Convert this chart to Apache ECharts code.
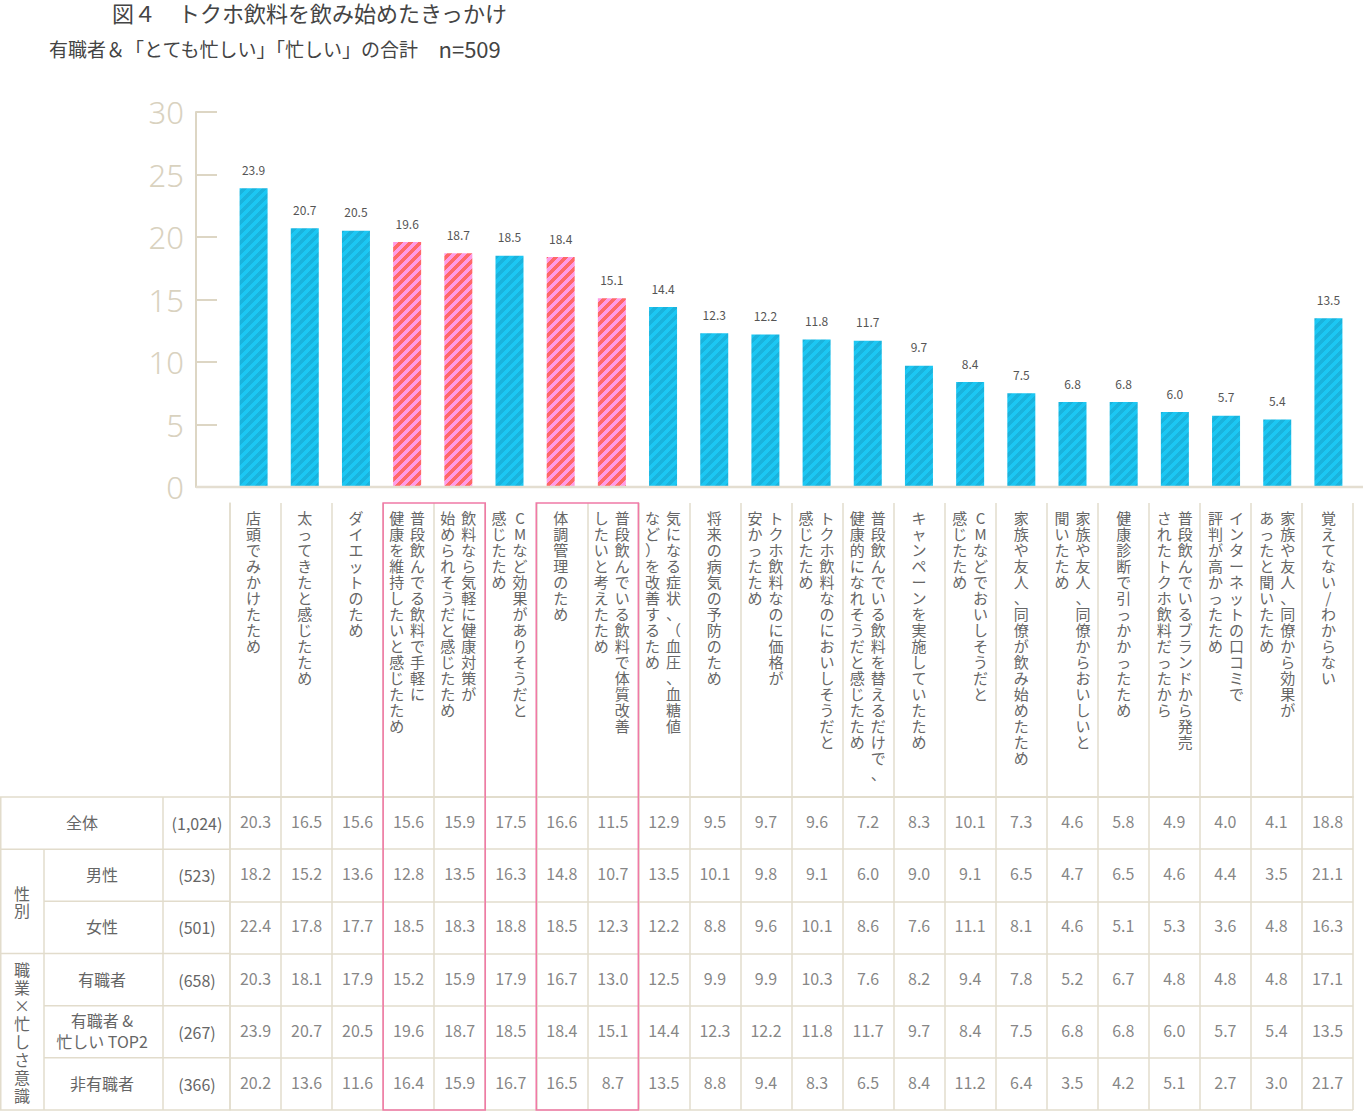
<!DOCTYPE html>
<html><head><meta charset="utf-8">
<script src="https://cdn.jsdelivr.net/npm/echarts@6/dist/echarts.min.js"></script>
<style>html,body{margin:0;padding:0;background:#fff}#c{width:1363px;height:1111px}</style>
</head><body><div id="c"></div>
<script>
// ---------------- data ----------------
const categories = [
  '店頭でみかけたため',
  '太ってきたと感じたため',
  'ダイエットのため',
  '普段飲んでる飲料で手軽に\n健康を維持したいと感じたため',
  '飲料なら気軽に健康対策が\n始められそうだと感じたため',
  'CMなど効果がありそうだと\n感じたため',
  '体調管理のため',
  '普段飲んでいる飲料で体質改善\nしたいと考えたため',
  '気になる症状、（血圧、血糖値\nなど）を改善するため',
  '将来の病気の予防のため',
  'トクホ飲料なのに価格が\n安かったため',
  'トクホ飲料なのにおいしそうだと\n感じたため',
  '普段飲んでいる飲料を替えるだけで、\n健康的になれそうだと感じたため',
  'キャンペーンを実施していたため',
  'CMなどでおいしそうだと\n感じたため',
  '家族や友人、同僚が飲み始めたため',
  '家族や友人、同僚からおいしいと\n聞いたため',
  '健康診断で引っかかったため',
  '普段飲んでいるブランドから発売\nされたトクホ飲料だったから',
  'インターネットの口コミで\n評判が高かったため',
  '家族や友人、同僚から効果が\nあったと聞いたため',
  '覚えてない/わからない'
];
const values = [23.9, 20.7, 20.5, 19.6, 18.7, 18.5, 18.4, 15.1, 14.4, 12.3, 12.2, 11.8, 11.7, 9.7, 8.4, 7.5, 6.8, 6.8, 6.0, 5.7, 5.4, 13.5];
const highlighted = [3, 4, 6, 7];
const highlightGroups = [[3, 4], [6, 7]];
const yTicks = { min: 0, max: 30, interval: 5 };

const rowLabels = ['全体', '男性', '女性', '有職者', '有職者 &\n忙しい TOP2', '非有職者'];
const rowN = ['(1,024)', '(523)', '(501)', '(658)', '(267)', '(366)'];
const groupLabels = ['性別', '職業×忙しさ意識'];
const rowAll     = [20.3, 16.5, 15.6, 15.6, 15.9, 17.5, 16.6, 11.5, 12.9, 9.5, 9.7, 9.6, 7.2, 8.3, 10.1, 7.3, 4.6, 5.8, 4.9, 4.0, 4.1, 18.8];
const rowMale    = [18.2, 15.2, 13.6, 12.8, 13.5, 16.3, 14.8, 10.7, 13.5, 10.1, 9.8, 9.1, 6.0, 9.0, 9.1, 6.5, 4.7, 6.5, 4.6, 4.4, 3.5, 21.1];
const rowFemale  = [22.4, 17.8, 17.7, 18.5, 18.3, 18.8, 18.5, 12.3, 12.2, 8.8, 9.6, 10.1, 8.6, 7.6, 11.1, 8.1, 4.6, 5.1, 5.3, 3.6, 4.8, 16.3];
const rowEmployed= [20.3, 18.1, 17.9, 15.2, 15.9, 17.9, 16.7, 13.0, 12.5, 9.9, 9.9, 10.3, 7.6, 8.2, 9.4, 7.8, 5.2, 6.7, 4.8, 4.8, 4.8, 17.1];
const rowBusy    = [23.9, 20.7, 20.5, 19.6, 18.7, 18.5, 18.4, 15.1, 14.4, 12.3, 12.2, 11.8, 11.7, 9.7, 8.4, 7.5, 6.8, 6.8, 6.0, 5.7, 5.4, 13.5];
const rowNonEmp  = [20.2, 13.6, 11.6, 16.4, 15.9, 16.7, 16.5, 8.7, 13.5, 8.8, 9.4, 8.3, 6.5, 8.4, 11.2, 6.4, 3.5, 4.2, 5.1, 2.7, 3.0, 21.7];
const tableRows = [rowAll, rowMale, rowFemale, rowEmployed, rowBusy, rowNonEmp];

// ---------------- layout / style ----------------
const FONT = '"Noto Sans CJK JP", "Noto Sans", sans-serif';
const LINE = '#e2dccc';
const LW = 1.5;
const L = 230, RIGHT = 10, W = 1363;
const R = W - RIGHT;
const BAR_L = 228, BAR_R = 9;
const BAR_TOP = 112, BAR_BOTTOM = 487;
const HEAD_TOP = 503, TABLE_TOP = 797, TABLE_BOTTOM = 1110;
const band = (R - L) / categories.length;
const rowH = (TABLE_BOTTOM - TABLE_TOP) / rowLabels.length;

function vert(label) {
  const cols = label.split('\n').map(s => Array.from(s));
  const n = Math.max(...cols.map(c => c.length));
  const lines = [];
  for (let i = 0; i < n; i++) {
    let line = '';
    for (let c = cols.length - 1; c >= 0; c--) {
      const ch = cols[c][i] || '　';
      line += '{c|' + ch + '}';
    }
    lines.push(line);
  }
  return lines.join('\n');
}

// diagonal "/" stripe tile
function stripeTile(base, stripe) {
  const s = 10;
  const cv = document.createElement('canvas');
  cv.width = s; cv.height = s;
  const ctx = cv.getContext('2d');
  ctx.fillStyle = base; ctx.fillRect(0, 0, s, s);
  ctx.fillStyle = stripe;
  for (let y = 0; y < s; y++) for (let x = 0; x < s; x++) {
    if (((x + y) % s) < s / 2) ctx.fillRect(x, y, 1, 1);
  }
  return { image: cv, repeat: 'repeat' };
}
const blueStyle = { color: stripeTile('#1cc7f3', '#1ab3dd') };
const pinkStyle = { color: stripeTile('#ff9be4', '#ff6868') };

const tableData = [];
tableRows.forEach((row, r) => row.forEach((v, c) => tableData.push([c, r, v])));

// graphics for left table part
const graphics = [];
function hline(x1, x2, y) { graphics.push({ type: 'line', shape: { x1, y1: y, x2, y2: y }, style: { stroke: LINE, lineWidth: LW }, silent: true, z: 5 }); }
function vline(x, y1, y2) { graphics.push({ type: 'line', shape: { x1: x, y1, x2: x, y2 }, style: { stroke: LINE, lineWidth: LW }, silent: true, z: 5 }); }
const GX = 44, LX = 163;
hline(0, L, TABLE_TOP);
hline(0, L, TABLE_TOP + rowH);
hline(GX, L, TABLE_TOP + 2 * rowH);
hline(0, L, TABLE_TOP + 3 * rowH);
hline(GX, L, TABLE_TOP + 4 * rowH);
hline(GX, L, TABLE_TOP + 5 * rowH);
hline(0, L, TABLE_BOTTOM);
vline(0.75, TABLE_TOP, TABLE_BOTTOM);
vline(GX, TABLE_TOP + rowH, TABLE_BOTTOM);
vline(LX, TABLE_TOP, TABLE_BOTTOM);
// x-axis baseline
graphics.push({ type: 'line', shape: { x1: 196, y1: BAR_BOTTOM, x2: W, y2: BAR_BOTTOM }, style: { stroke: '#e4ded1', lineWidth: 2.5 }, silent: true, z: 5 });

rowLabels.forEach((t, r) => {
  graphics.push({
    type: 'text', x: r === 0 ? 82 : 102, y: TABLE_TOP + (r + 0.5) * rowH - 1, silent: true, z: 6,
    style: { text: t, fill: '#666', font: '16px ' + FONT, align: 'center', verticalAlign: 'middle', lineHeight: 21 }
  });
});
const groupSpans = [[1, 3], [3, 6]];
groupLabels.forEach((t, g) => {
  graphics.push({
    type: 'text', x: 22, y: TABLE_TOP + (groupSpans[g][0] + groupSpans[g][1]) / 2 * rowH, silent: true, z: 6,
    style: { text: Array.from(t).join('\n'), fill: '#666', font: '16px ' + FONT, align: 'center', verticalAlign: 'middle', lineHeight: g === 0 ? 17 : 18 }
  });
});
// pink highlight boxes
highlightGroups.forEach(([a, b]) => {
  graphics.push({
    type: 'rect', silent: true, z: 7,
    shape: { x: L + a * band, y: HEAD_TOP, width: (b - a + 1) * band, height: TABLE_BOTTOM - HEAD_TOP },
    style: { fill: 'none', stroke: '#f07aa6', lineWidth: 1.6 }
  });
});

const axisLineStyle = { color: LINE, width: LW };

const option = {
  backgroundColor: '#fff',
  animation: false,
  textStyle: { fontFamily: FONT },
  title: [
    { text: '図４　トクホ飲料を飲み始めたきっかけ', left: 112, top: 1, padding: 0,
      textStyle: { fontSize: 22, fontWeight: 'normal', color: '#444', fontFamily: FONT } },
    { text: '{a|有職者＆「とても忙しい」「忙しい」の合計　}{b|n=509}', left: 49, top: 37, padding: 0,
      textStyle: { fontSize: 19, fontWeight: 'normal', color: '#444', fontFamily: FONT,
        rich: { a: { fontSize: 19, color: '#444', fontFamily: FONT }, b: { fontSize: 22, color: '#444', fontFamily: FONT } } } }
  ],
  grid: [
    { left: BAR_L, right: BAR_R, top: BAR_TOP, height: BAR_BOTTOM - BAR_TOP },
    { left: L, right: RIGHT, top: HEAD_TOP, height: TABLE_TOP - HEAD_TOP },
    { left: L, right: RIGHT, top: TABLE_TOP, height: TABLE_BOTTOM - TABLE_TOP }
  ],
  xAxis: [
    { gridIndex: 0, type: 'category', data: categories, axisLine: { show: false }, axisTick: { show: false },
      axisLabel: { interval: 0, margin: 22, formatter: vert, color: '#666', fontSize: 15, lineHeight: 16,
        rich: { c: { width: 21, align: 'center', fontSize: 15, lineHeight: 16, color: '#666', fontFamily: FONT } } } },
    { gridIndex: 1, type: 'category', data: categories, position: 'top',
      axisLine: { show: true, lineStyle: axisLineStyle }, axisTick: { show: false }, axisLabel: { show: false },
      splitLine: { show: true, interval: 0, lineStyle: axisLineStyle } },
    { gridIndex: 2, type: 'category', data: categories, position: 'top',
      axisLine: { show: true, lineStyle: axisLineStyle }, axisTick: { show: false }, axisLabel: { show: false },
      splitLine: { show: true, interval: 0, lineStyle: axisLineStyle } }
  ],
  yAxis: [
    { gridIndex: 0, type: 'value', min: yTicks.min, max: yTicks.max, interval: yTicks.interval, offset: BAR_L - 196,
      axisLine: { show: true, lineStyle: { color: '#ddd6c4', width: 2 } },
      axisTick: { show: true, inside: true, length: 21, lineStyle: { color: '#ddd6c4', width: 2 } },
      axisLabel: { fontSize: 31, color: '#d9d2bf', margin: 12, fontFamily: '"Noto Sans", sans-serif', fontWeight: 300 },
      splitLine: { show: false } },
    { gridIndex: 1, type: 'value', axisLine: { show: true, lineStyle: axisLineStyle }, axisTick: { show: false },
      axisLabel: { show: false }, splitLine: { show: false } },
    { gridIndex: 2, type: 'category', inverse: true, data: rowN,
      axisLine: { show: true, lineStyle: axisLineStyle }, axisTick: { show: false },
      axisLabel: { align: 'center', margin: 33, fontSize: 16, color: '#666' },
      splitLine: { show: true, interval: 0, lineStyle: axisLineStyle } }
  ],
  series: [
    { type: 'bar', xAxisIndex: 0, yAxisIndex: 0, barWidth: 28,
      data: values.map((v, i) => ({ value: v, itemStyle: highlighted.includes(i) ? pinkStyle : blueStyle })),
      label: { show: true, position: 'top', distance: 13, fontSize: 12, color: '#555', formatter: p => p.value.toFixed(1) } },
    { type: 'scatter', xAxisIndex: 2, yAxisIndex: 2, symbolSize: 1, silent: true,
      itemStyle: { color: 'rgba(0,0,0,0)' }, data: tableData,
      label: { show: true, position: 'inside', offset: [0, -2], fontSize: 16, color: '#666', formatter: p => p.value[2].toFixed(1) } }
  ],
  graphic: graphics
};

const chart = echarts.init(document.getElementById('c'), null, { renderer: 'svg' });
chart.setOption(option);
</script>
</body></html>
